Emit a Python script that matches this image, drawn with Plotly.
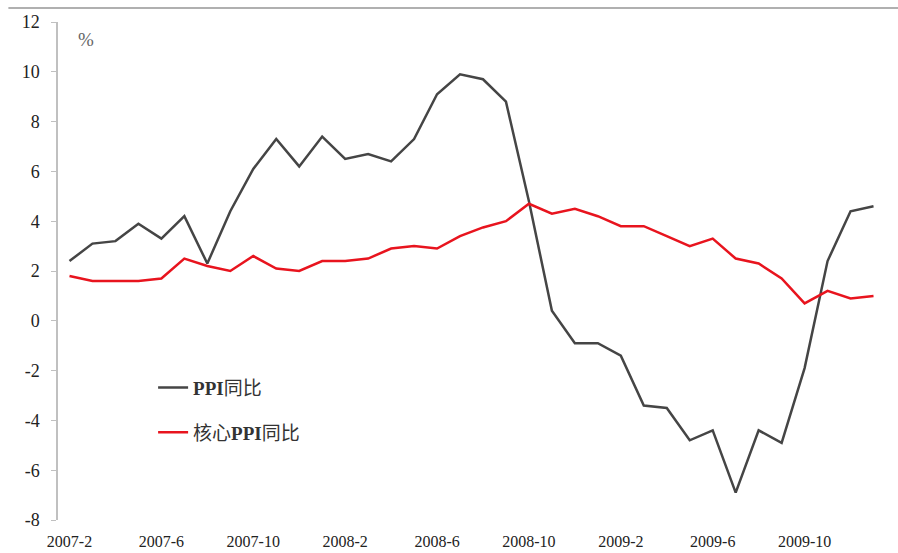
import plotly.graph_objects as go

months = ["2007-2", "2007-3", "2007-4", "2007-5", "2007-6", "2007-7", "2007-8", "2007-9",
          "2007-10", "2007-11", "2007-12", "2008-1", "2008-2", "2008-3", "2008-4", "2008-5",
          "2008-6", "2008-7", "2008-8", "2008-9", "2008-10", "2008-11", "2008-12", "2009-1",
          "2009-2", "2009-3", "2009-4", "2009-5", "2009-6", "2009-7", "2009-8", "2009-9",
          "2009-10", "2009-11", "2009-12", "2010-1"]

ppi_yoy = [2.4, 3.1, 3.2, 3.9, 3.3, 4.2, 2.3, 4.4, 6.1, 7.3, 6.2, 7.4,
           6.5, 6.7, 6.4, 7.3, 9.1, 9.9, 9.7, 8.8, 4.8, 0.4, -0.9, -0.9,
           -1.4, -3.4, -3.5, -4.8, -4.4, -6.9, -4.4, -4.9, -1.9, 2.4, 4.4, 4.6]

core_ppi_yoy = [1.8, 1.6, 1.6, 1.6, 1.7, 2.5, 2.2, 2.0, 2.6, 2.1, 2.0, 2.4,
                2.4, 2.5, 2.9, 3.0, 2.9, 3.4, 3.75, 4.0, 4.7, 4.3, 4.5, 4.2,
                3.8, 3.8, 3.4, 3.0, 3.3, 2.5, 2.3, 1.7, 0.7, 1.2, 0.9, 1.0]

label_months = months[::4]
y_ticks = [12, 10, 8, 6, 4, 2, 0, -2, -4, -6, -8]
y_tick_text = [str(v) for v in y_ticks]
series_names = ["<b>PPI</b>同比", "核心<b>PPI</b>同比"]

serif = "Liberation Serif, Noto Sans CJK SC, serif"

fig = go.Figure()
fig.add_trace(go.Scatter(x=months, y=ppi_yoy, mode="lines", name=series_names[0],
                         line=dict(color="#454545", width=2.5), legendgroup="a"))
fig.add_trace(go.Scatter(x=months, y=core_ppi_yoy, mode="lines", name=series_names[1],
                         line=dict(color="#e8141e", width=2.5), legendgroup="b"))

n = len(months)
boundaries = [k - 0.5 for k in range(0, n + 1, 4)]

fig.update_layout(
    width=898, height=553,
    margin=dict(l=58, r=13, t=22, b=33, autoexpand=False),
    paper_bgcolor="white", plot_bgcolor="white",
    showlegend=True,
    legend=dict(x=0.115, y=0.304, xanchor="left", yanchor="top",
                bgcolor="rgba(0,0,0,0)", traceorder="grouped", tracegroupgap=17,
                font=dict(family=serif, size=19, color="#333333")),
    xaxis=dict(type="category", categoryorder="array", categoryarray=months,
               range=[-0.5, n - 0.5], automargin=False,
               tickmode="array", tickvals=label_months, ticktext=label_months,
               ticks="", showline=False, showgrid=False, zeroline=False,
               tickangle=0, ticklabelstandoff=10,
               tickfont=dict(family=serif, size=16, color="#222222")),
    xaxis2=dict(overlaying="x", anchor="free", position=0.4, type="linear",
                range=[-0.5, n - 0.5], tickmode="array", tickvals=boundaries,
                ticks="outside", ticklen=4, tickcolor="#c0c0c0", tickwidth=1,
                showline=True, linecolor="#c0c0c0", linewidth=1.5, automargin=False,
                showticklabels=False, showgrid=False, zeroline=False),
    yaxis=dict(range=[-8, 12], tickmode="array", tickvals=y_ticks, ticktext=y_tick_text,
               showgrid=False, zeroline=False, automargin=False,
               showline=True, linecolor="#c0c0c0", linewidth=1.5,
               ticks="outside", ticklen=5, tickcolor="#c0c0c0",
               ticklabelstandoff=8,
               tickfont=dict(family=serif, size=18, color="#222222")),
    shapes=[dict(type="line", xref="paper", yref="paper", x0=-0.06, x1=1.02,
                 y0=1.028, y1=1.028, line=dict(color="#b0b0b0", width=2))],
    annotations=[dict(text="%", xref="paper", yref="paper", x=0.034, y=0.964,
                      xanchor="center", yanchor="middle",
                      showarrow=False, font=dict(family=serif, size=19, color="#666666"))],
)

fig.write_html("out.html")
